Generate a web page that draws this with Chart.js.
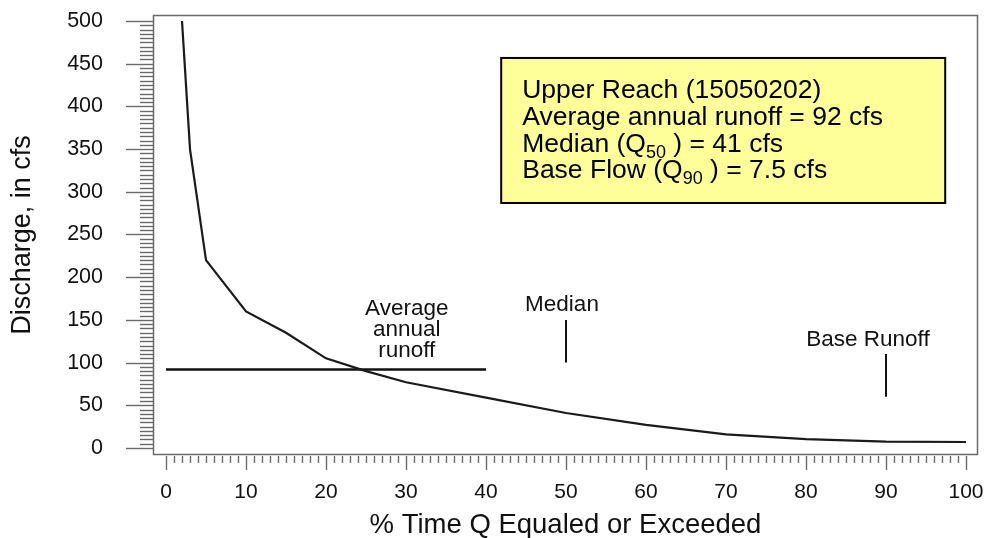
<!DOCTYPE html>
<html>
<head>
<meta charset="utf-8">
<script src="https://cdn.jsdelivr.net/npm/chart.js@4.4.0/dist/chart.umd.min.js"></script>
<style>
html,body{margin:0;padding:0;background:#fff;overflow:hidden}
#wrap{width:987px;height:538px;position:relative}
</style>
</head>
<body>
<div id="wrap"><canvas id="c"></canvas></div>
<script>
// ---- data ----
const percentExceeded = [2, 3, 5, 10, 15, 20, 25, 30, 40, 50, 60, 70, 80, 90, 100];
const dischargeCfs    = [500, 350, 220, 160, 135, 105, 90, 77, 59, 41, 27, 16, 10.5, 7.5, 7];
const xTickValues = [0, 10, 20, 30, 40, 50, 60, 70, 80, 90, 100];
const yTickValues = [0, 50, 100, 150, 200, 250, 300, 350, 400, 450, 500];
const averageAnnualRunoff = 92;
const averageLineSpan = [0, 40];
const medianPercent = 50;
const medianMarkerSpan = [100, 150];
const basePercent = 90;
const baseMarkerSpan = [60, 110];
const infoLines = [
  [["Upper Reach (15050202)"]],
  [["Average annual runoff = 92 cfs"]],
  [["Median (Q"], ["50", "sub"], [" ) = 41 cfs"]],
  [["Base Flow (Q"], ["90", "sub"], [" ) = 7.5 cfs"]]
];
const xTitle = "% Time Q Equaled or Exceeded";
const yTitle = "Discharge, in cfs";

// ---- rendering ----
const FONT = '"Liberation Sans", Arial, Helvetica, sans-serif';
const f = s => s + 'px ' + FONT;

const curve = percentExceeded.map((p, i) => ({x: p, y: dischargeCfs[i]}));
const avgLine = averageLineSpan.map(p => ({x: p, y: averageAnnualRunoff}));
const medLine = medianMarkerSpan.map(v => ({x: medianPercent, y: v}));
const baseLine = baseMarkerSpan.map(v => ({x: basePercent, y: v}));

const framePlugin = {
  id: 'frame',
  beforeDatasetsDraw(chart) {
    const {ctx, chartArea: a, scales: {x, y}} = chart;
    ctx.save();
    ctx.strokeStyle = '#6a6a6a';
    ctx.lineWidth = 1.4;
    for (let v = 0; v <= 500; v += 5) {
      const py = Math.round(y.getPixelForValue(v)) + 0.5;
      const major = v % 50 === 0;
      ctx.beginPath();
      ctx.moveTo(a.left - (major ? 27 : 13), py);
      ctx.lineTo(a.left, py);
      ctx.stroke();
    }
    for (let v = 0; v <= 100; v += 1) {
      const px = Math.round(x.getPixelForValue(v)) + 0.5;
      const major = v % 10 === 0;
      ctx.beginPath();
      ctx.moveTo(px, a.bottom + 1);
      ctx.lineTo(px, a.bottom + (major ? 15 : 8));
      ctx.stroke();
    }
    ctx.lineWidth = 1.5;
    ctx.strokeRect(a.left + 0.5, a.top + 0.5, a.right - a.left - 1, a.bottom - a.top - 1);
    ctx.restore();
  }
};

const notePlugin = {
  id: 'notes',
  afterDatasetsDraw(chart) {
    const {ctx, scales: {x, y}} = chart;
    ctx.save();
    ctx.fillStyle = '#111';
    ctx.textAlign = 'center';
    ctx.textBaseline = 'alphabetic';
    ctx.font = f(22.5);
    const at = (px, py) => [x.getPixelForValue(px), y.getPixelForValue(py)];
    let p = at(30.1, 156); ctx.fillText('Average', p[0], p[1]);
    p = at(30.1, 131.5); ctx.fillText('annual', p[0], p[1]);
    p = at(30.1, 106.5); ctx.fillText('runoff', p[0], p[1]);
    p = at(49.5, 160); ctx.fillText('Median', p[0], p[1]);
    p = at(87.75, 119.5); ctx.fillText('Base Runoff', p[0], p[1]);

    const x0 = x.getPixelForValue(41.9), x1 = x.getPixelForValue(97.4);
    const y0 = y.getPixelForValue(456.7), y1 = y.getPixelForValue(286.9);
    ctx.fillStyle = '#ffff99';
    ctx.fillRect(x0, y0, x1 - x0, y1 - y0);
    ctx.strokeStyle = '#000';
    ctx.lineWidth = 2;
    ctx.strokeRect(x0, y0, x1 - x0, y1 - y0);
    ctx.fillStyle = '#000';
    ctx.textAlign = 'left';
    const tx = x0 + 21;
    infoLines.forEach((segs, i) => {
      let cx = tx;
      const by = y0 + 40 + i * 26.8;
      segs.forEach(seg => {
        const sub = seg[1] === 'sub';
        ctx.font = f(sub ? 18 : 26.5);
        ctx.fillText(seg[0], cx, by + (sub ? 6 : 0));
        cx += ctx.measureText(seg[0]).width;
      });
    });
    ctx.restore();
  }
};

const noPad = s => { s.paddingTop = 0; s.paddingBottom = 0; s.paddingLeft = 0; s.paddingRight = 0; };

new Chart(document.getElementById('c'), {
  type: 'line',
  data: {
    datasets: [
      {data: curve, borderColor: '#1a1a1a', borderWidth: 2.2, pointRadius: 0, tension: 0, fill: false},
      {data: avgLine, borderColor: '#111', borderWidth: 2.5, pointRadius: 0},
      {data: medLine, borderColor: '#111', borderWidth: 2, pointRadius: 0},
      {data: baseLine, borderColor: '#111', borderWidth: 2, pointRadius: 0}
    ]
  },
  options: {
    responsive: true,
    maintainAspectRatio: false,
    animation: false,
    layout: {padding: {left: 0, top: 15, right: 9, bottom: 0}},
    plugins: {legend: {display: false}, tooltip: {enabled: false}},
    scales: {
      x: {
        type: 'linear',
        min: -1.625, max: 101.5,
        grid: {display: false, drawTicks: false},
        border: {display: false},
        afterBuildTicks: s => { s.ticks = xTickValues.map(v => ({value: v})); },
        afterFit: s => { s.height = 83; noPad(s); },
        ticks: {font: {family: FONT, size: 21}, color: '#111', padding: 25, maxRotation: 0, autoSkip: false},
        title: {display: true, text: xTitle, font: {family: FONT, size: 27.5, lineHeight: 0.9}, color: '#111', padding: {top: 0, bottom: 0}}
      },
      y: {
        type: 'linear',
        min: -8.2, max: 507,
        grid: {display: false, drawTicks: false},
        border: {display: false},
        afterBuildTicks: s => { s.ticks = yTickValues.map(v => ({value: v})); },
        afterFit: s => { s.width = 153; noPad(s); },
        ticks: {font: {family: FONT, size: 21.5}, color: '#111', padding: 50, autoSkip: false},
        title: {display: true, text: yTitle, font: {family: FONT, size: 27, lineHeight: 1.2}, color: '#111', padding: {top: 6, bottom: 0}}
      }
    }
  },
  plugins: [framePlugin, notePlugin]
});
</script>
</body>
</html>
